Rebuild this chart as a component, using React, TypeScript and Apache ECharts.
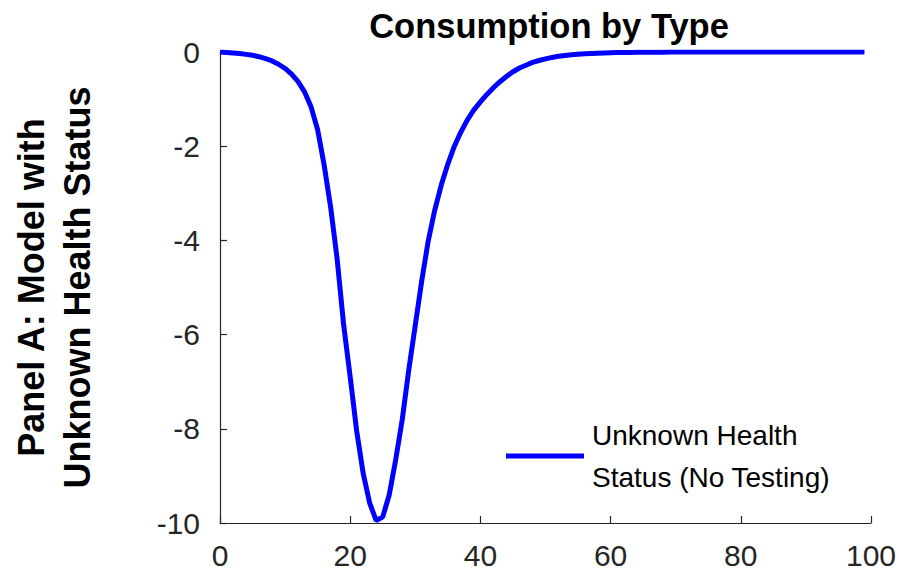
import React, { useEffect, useRef } from "react";
import * as echarts from "echarts";

const titleText = "Consumption by Type";
const yLabel = "Panel A: Model with\nUnknown Health Status";
const seriesName = "Unknown Health\nStatus (No Testing)";

const periods: number[] = Array.from({ length: 100 }, (_, i) => i);

const consumption: number[] = [
  0, -0.01, -0.02, -0.03, -0.05, -0.07, -0.1, -0.14, -0.19, -0.26,
  -0.35, -0.47, -0.63, -0.85, -1.17, -1.65, -2.4, -3.3, -4.4, -5.8,
  -6.9, -8.05, -8.95, -9.58, -9.95, -9.87, -9.4, -8.65, -7.8, -6.75,
  -5.8, -4.85, -4.0, -3.35, -2.82, -2.38, -2.0, -1.7, -1.44, -1.23,
  -1.06, -0.9, -0.76, -0.63, -0.52, -0.42, -0.34, -0.28, -0.22, -0.18,
  -0.145, -0.115, -0.092, -0.073, -0.058, -0.046, -0.037, -0.03, -0.024, -0.019,
  -0.015, -0.012, -0.01, -0.008, -0.006, -0.005, -0.004, -0.003, -0.003, -0.002,
  -0.002, -0.001, -0.001, -0.001, -0.001, 0, 0, 0, 0, 0,
  0, 0, 0, 0, 0, 0, 0, 0, 0, 0,
  0, 0, 0, 0, 0, 0, 0, 0, 0, 0,
];

const FONT = "'Liberation Sans', Arial, Helvetica, sans-serif";

export default function App() {
  const ref = useRef<HTMLDivElement>(null);

  useEffect(() => {
    if (!ref.current) return;
    const chart = echarts.init(ref.current, undefined, { renderer: "svg" });
    const data = periods.map((t, i) => [t, consumption[i]]);
    chart.setOption({
      animation: false,
      backgroundColor: "#ffffff",
      title: {
        text: titleText,
        left: 544,
        textAlign: "center",
        top: 3,
        textStyle: {
          fontFamily: FONT,
          fontSize: 34.5,
          fontWeight: "bold",
          color: "#000000",
        },
      },
      grid: { left: 216.5, right: 27, top: 52, bottom: 51, containLabel: false },
      legend: {
        left: 501,
        top: 409,
        icon: "rect",
        itemWidth: 78,
        itemHeight: 5,
        itemGap: 0,
        data: [seriesName],
        textStyle: {
          fontFamily: FONT,
          fontSize: 28,
          color: "#000000",
          lineHeight: 42,
          padding: [0, 0, 0, 3],
        },
      },
      xAxis: {
        type: "value",
        min: 0,
        max: 100,
        interval: 20,
        splitLine: { show: false },
        axisLine: { onZero: false, lineStyle: { color: "#262626", width: 1.2 } },
        axisTick: { inside: true, length: 7, lineStyle: { color: "#262626", width: 1.2 } },
        axisLabel: { fontFamily: FONT, fontSize: 30, color: "#262626", margin: 17 },
      },
      yAxis: {
        type: "value",
        min: -10,
        max: 0,
        interval: 2,
        splitLine: { show: false },
        axisLine: { show: true, onZero: false, lineStyle: { color: "#262626", width: 1.2 } },
        axisTick: { show: true, inside: true, length: 7, lineStyle: { color: "#262626", width: 1.2 } },
        axisLabel: { fontFamily: FONT, fontSize: 30, color: "#262626", margin: 20 },
        name: yLabel,
        nameLocation: "middle",
        nameRotate: 90,
        nameGap: 120,
        nameTextStyle: {
          fontFamily: FONT,
          fontSize: 36,
          fontWeight: "bold",
          color: "#000000",
          lineHeight: 46,
        },
      },
      series: [
        {
          name: seriesName,
          type: "line",
          data,
          showSymbol: false,
          symbol: "none",
          smooth: false,
          color: "#0000ff",
          lineStyle: { color: "#0000ff", width: 5 },
          itemStyle: { color: "#0000ff" },
        },
      ],
    });
    return () => chart.dispose();
  }, []);

  return (
    <div
      ref={ref}
      style={{ position: "fixed", left: 0, top: 0, width: 899, height: 574, background: "#fff" }}
    />
  );
}
